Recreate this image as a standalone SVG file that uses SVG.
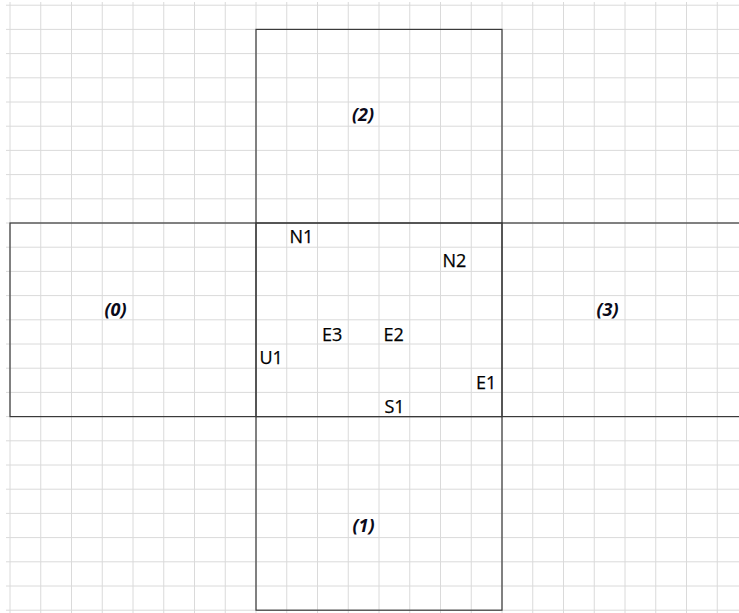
<svg xmlns="http://www.w3.org/2000/svg" width="739" height="613" viewBox="0 0 739 613">
<defs>
<style>
.grid line{stroke:#dadada;stroke-width:1}
.face{fill:none;stroke:#3a3a3a;stroke-width:1.2}
.lbl{font-family:"Open Sans","DejaVu Sans",sans-serif;font-size:18px;fill:#000;stroke:#000;stroke-width:0.25}
.face-lbl{font-family:"Open Sans","DejaVu Sans",sans-serif;font-size:18px;font-weight:bold;font-style:italic;fill:#0a0a1a;text-anchor:middle}
</style>
</defs>
<rect x="0" y="0" width="739" height="613" fill="#fff"/>
<g class="grid" id="grid">
<line x1="10" y1="2" x2="10" y2="613"/>
<line x1="40.75" y1="2" x2="40.75" y2="613"/>
<line x1="71.5" y1="2" x2="71.5" y2="613"/>
<line x1="102.25" y1="2" x2="102.25" y2="613"/>
<line x1="133" y1="2" x2="133" y2="613"/>
<line x1="163.75" y1="2" x2="163.75" y2="613"/>
<line x1="194.5" y1="2" x2="194.5" y2="613"/>
<line x1="225.25" y1="2" x2="225.25" y2="613"/>
<line x1="256" y1="2" x2="256" y2="613"/>
<line x1="286.75" y1="2" x2="286.75" y2="613"/>
<line x1="317.5" y1="2" x2="317.5" y2="613"/>
<line x1="348.25" y1="2" x2="348.25" y2="613"/>
<line x1="379" y1="2" x2="379" y2="613"/>
<line x1="409.75" y1="2" x2="409.75" y2="613"/>
<line x1="440.5" y1="2" x2="440.5" y2="613"/>
<line x1="471.25" y1="2" x2="471.25" y2="613"/>
<line x1="502" y1="2" x2="502" y2="613"/>
<line x1="532.75" y1="2" x2="532.75" y2="613"/>
<line x1="563.5" y1="2" x2="563.5" y2="613"/>
<line x1="594.25" y1="2" x2="594.25" y2="613"/>
<line x1="625" y1="2" x2="625" y2="613"/>
<line x1="655.75" y1="2" x2="655.75" y2="613"/>
<line x1="686.5" y1="2" x2="686.5" y2="613"/>
<line x1="717.25" y1="2" x2="717.25" y2="613"/>
<line x1="6" y1="5.2" x2="739" y2="5.2"/>
<line x1="6" y1="29.4" x2="739" y2="29.4"/>
<line x1="6" y1="53.6" x2="739" y2="53.6"/>
<line x1="6" y1="77.8" x2="739" y2="77.8"/>
<line x1="6" y1="102" x2="739" y2="102"/>
<line x1="6" y1="126.2" x2="739" y2="126.2"/>
<line x1="6" y1="150.4" x2="739" y2="150.4"/>
<line x1="6" y1="174.6" x2="739" y2="174.6"/>
<line x1="6" y1="198.8" x2="739" y2="198.8"/>
<line x1="6" y1="223" x2="739" y2="223"/>
<line x1="6" y1="247.2" x2="739" y2="247.2"/>
<line x1="6" y1="271.4" x2="739" y2="271.4"/>
<line x1="6" y1="295.6" x2="739" y2="295.6"/>
<line x1="6" y1="319.8" x2="739" y2="319.8"/>
<line x1="6" y1="344" x2="739" y2="344"/>
<line x1="6" y1="368.2" x2="739" y2="368.2"/>
<line x1="6" y1="392.4" x2="739" y2="392.4"/>
<line x1="6" y1="416.6" x2="739" y2="416.6"/>
<line x1="6" y1="440.8" x2="739" y2="440.8"/>
<line x1="6" y1="465" x2="739" y2="465"/>
<line x1="6" y1="489.2" x2="739" y2="489.2"/>
<line x1="6" y1="513.4" x2="739" y2="513.4"/>
<line x1="6" y1="537.6" x2="739" y2="537.6"/>
<line x1="6" y1="561.8" x2="739" y2="561.8"/>
<line x1="6" y1="586" x2="739" y2="586"/>
<line x1="6" y1="610.2" x2="739" y2="610.2"/>
</g>
<g id="face-2"><rect class="face" x="256" y="29.4" width="246" height="193.6"/><text class="face-lbl" x="363" y="121">(2)</text></g>
<g id="face-0"><rect class="face" x="10" y="223" width="246" height="193.6"/><text class="face-lbl" x="115.5" y="316">(0)</text></g>
<g id="face-center"><rect class="face" x="256" y="223" width="246" height="193.6"/></g>
<g id="face-3"><rect class="face" x="502" y="223" width="250" height="193.6"/><text class="face-lbl" x="607.5" y="316">(3)</text></g>
<g id="face-1"><rect class="face" x="256" y="416.6" width="246" height="193.6"/><text class="face-lbl" x="363.5" y="532">(1)</text></g>
<g id="labels">
<text class="lbl" id="N1" x="289.5" y="243">N1</text>
<text class="lbl" id="N2" x="442.5" y="267">N2</text>
<text class="lbl" id="E3" x="322" y="340.5">E3</text>
<text class="lbl" id="E2" x="383.5" y="340.5">E2</text>
<text class="lbl" id="U1" x="259.5" y="364">U1</text>
<text class="lbl" id="E1" x="476" y="389">E1</text>
<text class="lbl" id="S1" x="384.5" y="413">S1</text>
</g>
</svg>
